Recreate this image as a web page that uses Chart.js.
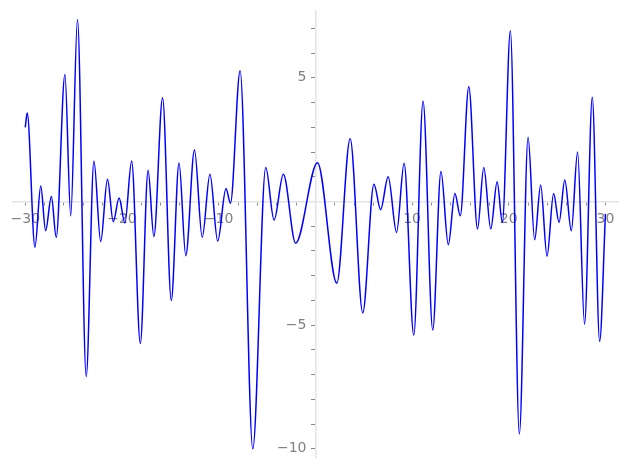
<!DOCTYPE html>
<html>
<head>
<meta charset="utf-8">
<script src="https://cdn.jsdelivr.net/npm/chart.js@4/dist/chart.umd.min.js"></script>
<style>
  html, body { margin: 0; padding: 0; background: #fff; }
  #wrap { width: 627px; height: 468px; position: relative; }
</style>
</head>
<body>
<div id="wrap"><canvas id="plot"></canvas></div>
<script>
// curve: turning points, left to right
const xs = [-30, -29.8, -29.0, -28.4, -27.9, -27.3, -26.8, -25.9, -25.3, -24.6,
  -23.7, -22.9, -22.2, -21.5, -20.9, -20.3, -19.7, -19.0, -18.1, -17.3,
  -16.7, -15.8, -14.9, -14.1, -13.4, -12.5, -11.7, -10.9, -10.1, -9.24,
  -8.78, -7.78, -6.47, -5.13, -4.27, -3.31, -2.04, 0.22, 2.22, 3.6,
  4.9, 6.06, 6.75, 7.53, 8.4, 9.18, 10.18, 11.14, 12.14, 12.99,
  13.75, 14.43, 14.99, 15.87, 16.77, 17.42, 18.14, 18.8, 19.34, 20.17,
  21.1, 22.0, 22.68, 23.3, 23.96, 24.64, 25.2, 25.8, 26.47, 27.12,
  27.84, 28.64, 29.4, 30];
const ys = [3.0, 3.58, -1.85, 0.63, -1.18, 0.2, -1.45, 5.13, -0.58, 7.36,
  -7.08, 1.64, -1.62, 0.9, -0.82, 0.14, -0.87, 1.64, -5.74, 1.26,
  -1.42, 4.19, -4.0, 1.56, -2.19, 2.08, -1.45, 1.1, -1.6, 0.52,
  -0.07, 5.29, -10.0, 1.37, -0.75, 1.1, -1.69, 1.57, -3.3, 2.54,
  -4.5, 0.7, -0.33, 1.0, -1.25, 1.55, -5.4, 4.05, -5.2, 1.21,
  -1.75, 0.32, -0.58, 4.64, -1.11, 1.37, -1.11, 0.8, -0.85, 6.9,
  -9.4, 2.6, -1.55, 0.67, -2.21, 0.32, -0.85, 0.87, -1.18, 2.0,
  -4.96, 4.21, -5.65, -0.5];

// ticks (minor ones get no label)
const xTicks = [];
for (let v = -30; v <= 30; v += 2) xTicks.push(v);
const xTickLabels = [-30, -20, -10, 10, 20, 30];
const yTicks = [];
for (let v = -10; v <= 7; v++) yTicks.push(v);
const yTickLabels = [-10, -5, 5];

const pts = xs.map((x, i) => ({ x: x, y: ys[i] }));
const fmt = v => (v < 0 ? '\u2212' + Math.abs(v) : String(v));

const ctx = document.getElementById('plot').getContext('2d');
new Chart(ctx, {
  type: 'line',
  data: {
    datasets: [{
      data: pts,
      borderColor: '#0000ff',
      borderWidth: 1.5,
      pointRadius: 0,
      fill: false,
      cubicInterpolationMode: 'monotone'
    }]
  },
  options: {
    responsive: true,
    maintainAspectRatio: false,
    animation: false,
    layout: { padding: { left: 13, right: 9, top: 10, bottom: 10 } },
    scales: {
      x: {
        type: 'linear',
        position: { y: 0 },
        min: -31.27,
        max: 31.3,
        afterBuildTicks: axis => { axis.ticks = xTicks.map(v => ({ value: v })); },
        ticks: {
          autoSkip: false,
          maxRotation: 0,
          padding: 6,
          color: '#808080',
          font: { family: 'DejaVu Sans', size: 14 },
          callback: v => (xTickLabels.includes(v) ? fmt(v) : '')
        },
        grid: { drawOnChartArea: false, drawTicks: true, tickLength: 3, tickColor: '#888888' },
        border: { color: '#e3e3e3', width: 1.5 }
      },
      y: {
        type: 'linear',
        position: { x: 0 },
        min: -10.34,
        max: 7.71,
        afterBuildTicks: axis => { axis.ticks = yTicks.map(v => ({ value: v })); },
        ticks: {
          autoSkip: false,
          padding: 8,
          color: '#808080',
          font: { family: 'DejaVu Sans', size: 14, lineHeight: 0.4 },
          // trailing spaces keep the labels clear of the spine
          callback: v => (yTickLabels.includes(v) ? fmt(v) + '  ' : '')
        },
        grid: { drawOnChartArea: false, drawTicks: true, tickLength: 4, tickColor: '#888888' },
        border: { color: '#e3e3e3', width: 1.5 }
      }
    },
    plugins: {
      legend: { display: false },
      tooltip: { enabled: false }
    }
  }
});
</script>
</body>
</html>
